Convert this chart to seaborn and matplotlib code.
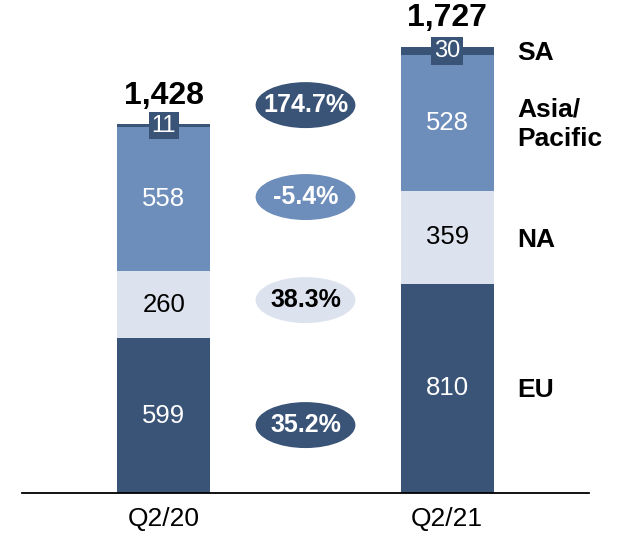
import numpy as np
import pandas as pd
import seaborn as sns
import matplotlib.pyplot as plt
from matplotlib.patches import Ellipse

quarters = ["Q2/20", "Q2/21"]
regions = ["EU", "NA", "Asia/\nPacific", "SA"]
eu = [599, 810]
na = [260, 359]
asia = [558, 528]
sa = [11, 30]
totals = ["1,428", "1,727"]
growth = ["35.2%", "38.3%", "-5.4%", "174.7%"]

dark = "#3a5478"
mid = "#6d8dbb"
light = "#dde3ee"
seg_colors = [dark, light, mid, dark]
seg_text = ["white", "black", "white", "white"]
ell_text = ["white", "black", "white", "white"]

sns.set_theme(style="white")
plt.rcParams["font.family"] = ["Liberation Sans", "DejaVu Sans"]

segments = np.array([eu, na, asia, sa])
cum = segments.cumsum(axis=0)
df = pd.DataFrame(cum.T, columns=["EU", "NA", "AP", "SA"])
df["quarter"] = quarters

fig = plt.figure(figsize=(6.21, 5.34), dpi=100)
ax = fig.add_axes([22 / 621, 41 / 534, 567 / 621, 493 / 534])

# draw cumulative bars from the top down so each covers the one before
for i, col in reversed(list(enumerate(["EU", "NA", "AP", "SA"]))):
    sns.barplot(data=df, x="quarter", y=col, color=seg_colors[i], saturation=1,
                width=0.328, linewidth=0, ax=ax)

ax.set_xlim(-0.5, 1.5)
ax.set_ylim(0, 1909)

for j in range(2):
    for i in range(4):
        mid_y = cum[i, j] - segments[i, j] / 2
        if i == 3:
            ax.text(j, mid_y, str(segments[i, j]), ha="center", va="center",
                    color="white", fontsize=17,
                    bbox=dict(boxstyle="square,pad=0.12", fc=dark, ec="none"))
        else:
            ax.text(j, mid_y, str(segments[i, j]), ha="center", va="center",
                    color=seg_text[i], fontsize=18.5)
    ax.text(j, cum[3, j] + 80, totals[j], ha="center", va="baseline",
            fontsize=23, fontweight="bold", color="black")

ell_y = [263, 747, 1146, 1502]
for i in range(4):
    ax.add_patch(Ellipse((0.5, ell_y[i]), 0.352, 178, fc=seg_colors[i], ec="none"))
    ax.text(0.5, ell_y[i], growth[i], ha="center", va="center",
            color=ell_text[i], fontsize=18, fontweight="bold")

lab_y = [399, 979, 1428, 1703]
for i in range(4):
    ax.text(1.246, lab_y[i], regions[i], ha="left", va="center",
            fontsize=19, fontweight="bold", color="black", linespacing=1.25)

sns.despine(ax=ax, left=True, top=True, right=True)
ax.spines["bottom"].set_color("black")
ax.spines["bottom"].set_linewidth(1.3)
ax.set_yticks([])
ax.set_xlabel("")
ax.set_ylabel("")
ax.tick_params(axis="x", length=0, labelsize=19, pad=10, colors="black")

fig.savefig("out.png", dpi=100)
